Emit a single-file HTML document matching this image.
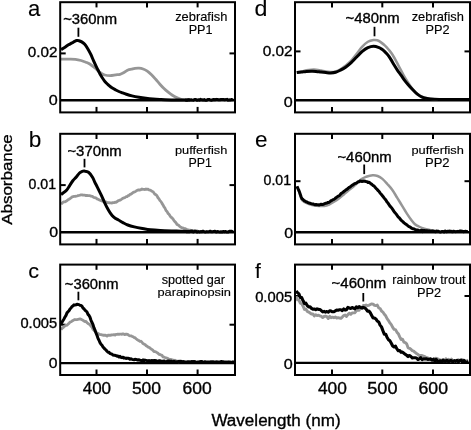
<!DOCTYPE html>
<html><head><meta charset="utf-8"><style>
html,body{margin:0;padding:0;background:#fff;width:471px;height:430px;overflow:hidden}
svg{display:block;will-change:transform}
text{font-family:"Liberation Sans", sans-serif;stroke:#000}
</style></head><body>
<svg width="471" height="430" viewBox="0 0 471 430">
<rect width="471" height="430" fill="#fff"/>
<line x1="96.5" y1="2.2" x2="96.5" y2="7.4" stroke="#000" stroke-width="2"/>
<line x1="96.5" y1="106.9" x2="96.5" y2="112.4" stroke="#000" stroke-width="2"/>
<line x1="147.0" y1="2.2" x2="147.0" y2="7.4" stroke="#000" stroke-width="2"/>
<line x1="147.0" y1="106.9" x2="147.0" y2="112.4" stroke="#000" stroke-width="2"/>
<line x1="197.6" y1="2.2" x2="197.6" y2="7.4" stroke="#000" stroke-width="2"/>
<line x1="197.6" y1="106.9" x2="197.6" y2="112.4" stroke="#000" stroke-width="2"/>
<line x1="60.2" y1="53.4" x2="65.7" y2="53.4" stroke="#000" stroke-width="2"/>
<line x1="229.5" y1="53.4" x2="235.0" y2="53.4" stroke="#000" stroke-width="2"/>
<line x1="60.2" y1="100.2" x2="235.0" y2="100.2" stroke="#000" stroke-width="2.4"/>
<line x1="96.5" y1="133.8" x2="96.5" y2="139.0" stroke="#000" stroke-width="2"/>
<line x1="96.5" y1="238.9" x2="96.5" y2="244.4" stroke="#000" stroke-width="2"/>
<line x1="147.0" y1="133.8" x2="147.0" y2="139.0" stroke="#000" stroke-width="2"/>
<line x1="147.0" y1="238.9" x2="147.0" y2="244.4" stroke="#000" stroke-width="2"/>
<line x1="197.6" y1="133.8" x2="197.6" y2="139.0" stroke="#000" stroke-width="2"/>
<line x1="197.6" y1="238.9" x2="197.6" y2="244.4" stroke="#000" stroke-width="2"/>
<line x1="60.2" y1="185.1" x2="65.7" y2="185.1" stroke="#000" stroke-width="2"/>
<line x1="229.5" y1="185.1" x2="235.0" y2="185.1" stroke="#000" stroke-width="2"/>
<line x1="60.2" y1="232.2" x2="235.0" y2="232.2" stroke="#000" stroke-width="2.4"/>
<line x1="96.5" y1="264.6" x2="96.5" y2="269.8" stroke="#000" stroke-width="2"/>
<line x1="96.5" y1="369.5" x2="96.5" y2="375.0" stroke="#000" stroke-width="2"/>
<line x1="147.0" y1="264.6" x2="147.0" y2="269.8" stroke="#000" stroke-width="2"/>
<line x1="147.0" y1="369.5" x2="147.0" y2="375.0" stroke="#000" stroke-width="2"/>
<line x1="197.6" y1="264.6" x2="197.6" y2="269.8" stroke="#000" stroke-width="2"/>
<line x1="197.6" y1="369.5" x2="197.6" y2="375.0" stroke="#000" stroke-width="2"/>
<line x1="60.2" y1="324.7" x2="65.7" y2="324.7" stroke="#000" stroke-width="2"/>
<line x1="229.5" y1="324.7" x2="235.0" y2="324.7" stroke="#000" stroke-width="2"/>
<line x1="60.2" y1="363.1" x2="235.0" y2="363.1" stroke="#000" stroke-width="2.4"/>
<line x1="332.0" y1="2.2" x2="332.0" y2="7.4" stroke="#000" stroke-width="2"/>
<line x1="332.0" y1="106.9" x2="332.0" y2="112.4" stroke="#000" stroke-width="2"/>
<line x1="382.3" y1="2.2" x2="382.3" y2="7.4" stroke="#000" stroke-width="2"/>
<line x1="382.3" y1="106.9" x2="382.3" y2="112.4" stroke="#000" stroke-width="2"/>
<line x1="433.0" y1="2.2" x2="433.0" y2="7.4" stroke="#000" stroke-width="2"/>
<line x1="433.0" y1="106.9" x2="433.0" y2="112.4" stroke="#000" stroke-width="2"/>
<line x1="295.0" y1="51.4" x2="300.5" y2="51.4" stroke="#000" stroke-width="2"/>
<line x1="464.5" y1="51.4" x2="470.0" y2="51.4" stroke="#000" stroke-width="2"/>
<line x1="295.0" y1="100.2" x2="470.0" y2="100.2" stroke="#000" stroke-width="2.4"/>
<line x1="332.0" y1="133.8" x2="332.0" y2="139.0" stroke="#000" stroke-width="2"/>
<line x1="332.0" y1="238.9" x2="332.0" y2="244.4" stroke="#000" stroke-width="2"/>
<line x1="382.3" y1="133.8" x2="382.3" y2="139.0" stroke="#000" stroke-width="2"/>
<line x1="382.3" y1="238.9" x2="382.3" y2="244.4" stroke="#000" stroke-width="2"/>
<line x1="433.0" y1="133.8" x2="433.0" y2="139.0" stroke="#000" stroke-width="2"/>
<line x1="433.0" y1="238.9" x2="433.0" y2="244.4" stroke="#000" stroke-width="2"/>
<line x1="295.0" y1="181.2" x2="300.5" y2="181.2" stroke="#000" stroke-width="2"/>
<line x1="464.5" y1="181.2" x2="470.0" y2="181.2" stroke="#000" stroke-width="2"/>
<line x1="295.0" y1="232.3" x2="470.0" y2="232.3" stroke="#000" stroke-width="2.4"/>
<line x1="332.0" y1="264.6" x2="332.0" y2="269.8" stroke="#000" stroke-width="2"/>
<line x1="332.0" y1="369.5" x2="332.0" y2="375.0" stroke="#000" stroke-width="2"/>
<line x1="382.3" y1="264.6" x2="382.3" y2="269.8" stroke="#000" stroke-width="2"/>
<line x1="382.3" y1="369.5" x2="382.3" y2="375.0" stroke="#000" stroke-width="2"/>
<line x1="433.0" y1="264.6" x2="433.0" y2="269.8" stroke="#000" stroke-width="2"/>
<line x1="433.0" y1="369.5" x2="433.0" y2="375.0" stroke="#000" stroke-width="2"/>
<line x1="295.0" y1="296.0" x2="300.5" y2="296.0" stroke="#000" stroke-width="2"/>
<line x1="464.5" y1="296.0" x2="470.0" y2="296.0" stroke="#000" stroke-width="2"/>
<line x1="295.0" y1="362.9" x2="470.0" y2="362.9" stroke="#000" stroke-width="2.4"/>
<path d="M61.00,59.10 C62.25,59.12 66.10,59.15 68.50,59.20 C70.90,59.25 73.32,59.18 75.40,59.40 C77.48,59.62 79.25,60.03 81.00,60.50 C82.75,60.97 84.43,61.62 85.90,62.20 C87.37,62.78 88.23,63.00 89.80,64.00 C91.37,65.00 93.60,66.78 95.30,68.20 C97.00,69.62 98.43,71.37 100.00,72.50 C101.57,73.63 103.00,74.47 104.70,75.00 C106.40,75.53 108.35,75.72 110.20,75.70 C112.05,75.68 114.17,75.13 115.80,74.90 C117.43,74.67 118.63,74.72 120.00,74.30 C121.37,73.88 122.67,73.12 124.00,72.40 C125.33,71.68 126.75,70.53 128.00,70.00 C129.25,69.47 130.33,69.47 131.50,69.20 C132.67,68.93 133.75,68.57 135.00,68.40 C136.25,68.23 137.65,68.10 139.00,68.20 C140.35,68.30 141.72,68.50 143.10,69.00 C144.48,69.50 145.90,70.23 147.30,71.20 C148.70,72.17 150.10,73.45 151.50,74.80 C152.90,76.15 154.30,77.73 155.70,79.30 C157.10,80.87 158.52,82.67 159.90,84.20 C161.28,85.73 162.62,87.17 164.00,88.50 C165.38,89.83 166.80,91.07 168.20,92.20 C169.60,93.33 171.00,94.40 172.40,95.30 C173.80,96.20 175.00,96.88 176.60,97.60 C178.20,98.32 180.10,99.18 182.00,99.60 C183.90,100.02 187.00,100.02 188.00,100.10" fill="none" stroke="#969696" stroke-width="2.8" stroke-linejoin="round" stroke-linecap="butt"/>
<path d="M61.10,49.60 C61.75,49.20 63.77,48.00 65.00,47.20 C66.23,46.40 67.33,45.52 68.50,44.80 C69.67,44.08 70.97,43.48 72.00,42.90 C73.03,42.32 73.90,41.68 74.70,41.30 C75.50,40.92 76.10,40.70 76.80,40.60 C77.50,40.50 78.08,40.48 78.90,40.70 C79.72,40.92 80.77,41.33 81.70,41.90 C82.63,42.47 83.57,43.08 84.50,44.10 C85.43,45.12 86.27,46.32 87.30,48.00 C88.33,49.68 89.67,52.08 90.70,54.20 C91.73,56.32 92.57,58.63 93.50,60.70 C94.43,62.77 95.55,65.05 96.30,66.60 C97.05,68.15 97.38,68.77 98.00,70.00 C98.62,71.23 99.32,72.75 100.00,74.00 C100.68,75.25 101.40,76.40 102.10,77.50 C102.80,78.60 103.50,79.68 104.20,80.60 C104.90,81.52 105.60,82.27 106.30,83.00 C107.00,83.73 107.47,84.20 108.40,85.00 C109.33,85.80 110.67,86.97 111.90,87.80 C113.13,88.63 114.63,89.38 115.80,90.00 C116.97,90.62 117.83,91.03 118.90,91.50 C119.97,91.97 120.95,92.33 122.20,92.80 C123.45,93.27 124.77,93.78 126.40,94.30 C128.03,94.82 129.90,95.40 132.00,95.90 C134.10,96.40 136.68,96.90 139.00,97.30 C141.32,97.70 143.58,98.02 145.90,98.30 C148.22,98.58 150.57,98.82 152.90,99.00 C155.23,99.18 156.42,99.25 159.90,99.40 C163.38,99.55 168.78,99.80 173.80,99.90 C178.82,100.00 187.30,99.98 190.00,100.00" fill="none" stroke="#000" stroke-width="3" stroke-linejoin="round" stroke-linecap="butt"/>
<path d="M185.00,99.53 L186.20,100.24 L187.40,100.16 L188.60,99.65 L189.80,99.89 L191.00,99.84 L192.20,100.04 L193.40,100.17 L194.60,99.47 L195.80,99.41 L197.00,100.21 L198.20,99.81 L199.40,100.13 L200.60,99.37 L201.80,99.81 L203.00,100.08 L204.20,99.59 L205.40,100.30 L206.60,100.26 L207.80,99.38 L209.00,99.38 L210.20,99.89 L211.40,100.29 L212.60,99.72 L213.80,99.56 L215.00,99.76 L216.20,99.37 L217.40,99.56 L218.60,99.77 L219.80,99.82 L221.00,99.56 L222.20,99.55 L223.40,99.54 L224.60,99.78 L225.80,99.61 L227.00,99.34 L228.20,100.15 L229.40,99.87 L230.60,99.95 L231.80,99.49 L233.00,100.29" fill="none" stroke="#000" stroke-width="3" stroke-linejoin="round" stroke-linecap="butt"/>
<path d="M61.00,203.82 L62.00,203.36 L63.00,202.28 L64.00,201.84 L65.00,201.91 L66.00,201.31 L67.00,200.62 L68.00,199.73 L69.00,199.26 L70.00,198.58 L71.00,197.88 L72.00,196.90 L73.00,196.72 L74.00,196.41 L75.00,196.35 L76.00,196.25 L77.00,195.98 L78.00,195.59 L79.00,195.41 L80.00,195.18 L81.00,194.91 L82.00,194.80 L83.00,195.13 L84.00,195.09 L85.00,195.21 L86.00,195.64 L87.00,195.45 L88.00,195.57 L89.00,195.59 L90.00,195.69 L91.00,196.15 L92.00,196.27 L93.00,196.78 L94.00,197.49 L95.00,197.75 L96.00,197.88 L97.00,198.86 L98.00,199.28 L99.00,199.72 L100.00,200.25 L101.00,200.56 L102.00,200.99 L103.00,201.10 L104.00,201.95 L105.00,202.28 L106.00,201.92 L107.00,202.54 L108.00,202.71 L109.00,202.73 L110.00,202.98 L111.00,202.88 L112.00,203.04 L113.00,202.60 L114.00,202.69 L115.00,202.21 L116.00,202.35 L117.00,201.77 L118.00,200.87 L119.00,200.46 L120.00,200.21 L121.00,199.59 L122.00,198.93 L123.00,198.25 L124.00,197.82 L125.00,197.57 L126.00,196.68 L127.00,196.69 L128.00,195.70 L129.00,195.49 L130.00,194.40 L131.00,194.19 L132.00,193.34 L133.00,192.60 L134.00,192.10 L135.00,191.68 L136.00,191.13 L137.00,190.42 L138.00,189.98 L139.00,189.97 L140.00,190.04 L141.00,189.60 L142.00,188.99 L143.00,189.42 L144.00,189.36 L145.00,189.49 L146.00,188.98 L147.00,189.37 L148.00,189.17 L149.00,189.98 L150.00,190.11 L151.00,190.47 L152.00,191.32 L153.00,191.72 L154.00,193.02 L155.00,194.25 L156.00,194.82 L157.00,195.80 L158.00,197.76 L159.00,198.93 L160.00,200.62 L161.00,201.63 L162.00,203.37 L163.00,204.91 L164.00,206.94 L165.00,208.20 L166.00,210.48 L167.00,211.45 L168.00,213.35 L169.00,214.26 L170.00,215.83 L171.00,217.26 L172.00,217.83 L173.00,218.94 L174.00,220.61 L175.00,221.71 L176.00,222.79 L177.00,224.48 L178.00,224.81 L179.00,225.64 L180.00,226.68 L181.00,227.32 L182.00,227.86 L183.00,227.88 L184.00,228.49 L185.00,228.53 L186.00,229.09 L187.00,229.57 L188.00,229.82 L189.00,230.13 L190.00,230.22 L191.00,230.49 L192.00,230.57 L193.00,230.57 L194.00,230.54 L195.00,230.99 L196.00,230.89 L197.00,230.89 L198.00,231.27 L199.00,231.72 L200.00,231.34" fill="none" stroke="#969696" stroke-width="2.8" stroke-linejoin="round" stroke-linecap="butt"/>
<path d="M61.00,194.60 C61.23,194.42 61.48,194.23 62.40,193.50 C63.32,192.77 65.27,191.57 66.50,190.20 C67.73,188.83 68.72,186.92 69.80,185.30 C70.88,183.68 71.92,181.88 73.00,180.50 C74.08,179.12 75.22,178.25 76.30,177.00 C77.38,175.75 78.55,173.92 79.50,173.00 C80.45,172.08 81.18,171.82 82.00,171.50 C82.82,171.18 83.32,170.97 84.40,171.10 C85.48,171.23 87.15,171.28 88.50,172.30 C89.85,173.32 91.42,175.48 92.50,177.20 C93.58,178.92 94.22,181.00 95.00,182.60 C95.78,184.20 96.22,184.83 97.20,186.80 C98.18,188.77 99.65,191.73 100.90,194.40 C102.15,197.07 103.45,200.20 104.70,202.80 C105.95,205.40 107.17,207.88 108.40,210.00 C109.63,212.12 110.87,214.07 112.10,215.50 C113.33,216.93 114.73,217.85 115.80,218.60 C116.87,219.35 117.32,219.33 118.50,220.00 C119.68,220.67 121.35,221.77 122.90,222.60 C124.45,223.43 125.90,224.28 127.80,225.00 C129.70,225.72 131.87,226.32 134.30,226.90 C136.73,227.48 139.70,228.02 142.40,228.50 C145.10,228.98 147.52,229.47 150.50,229.80 C153.48,230.13 155.97,230.28 160.30,230.50 C164.63,230.72 171.55,230.92 176.50,231.10 C181.45,231.28 187.75,231.52 190.00,231.60" fill="none" stroke="#000" stroke-width="3" stroke-linejoin="round" stroke-linecap="butt"/>
<path d="M185.00,231.34 L186.20,231.64 L187.40,231.47 L188.60,231.70 L189.80,231.73 L191.00,231.17 L192.20,231.11 L193.40,231.94 L194.60,231.36 L195.80,231.33 L197.00,232.10 L198.20,231.57 L199.40,231.94 L200.60,231.58 L201.80,231.74 L203.00,231.25 L204.20,231.73 L205.40,231.97 L206.60,231.62 L207.80,231.84 L209.00,231.77 L210.20,231.16 L211.40,231.86 L212.60,231.69 L213.80,231.40 L215.00,231.13 L216.20,231.97 L217.40,231.57 L218.60,231.82 L219.80,231.98 L221.00,231.81 L222.20,232.02 L223.40,231.49 L224.60,231.90 L225.80,231.54 L227.00,232.04 L228.20,231.98 L229.40,231.20 L230.60,231.24 L231.80,231.32 L233.00,232.07" fill="none" stroke="#000" stroke-width="3" stroke-linejoin="round" stroke-linecap="butt"/>
<path d="M61.00,329.66 L62.00,328.50 L63.00,327.73 L64.00,326.62 L65.00,325.80 L66.00,325.35 L67.00,325.08 L68.00,324.20 L69.00,323.40 L70.00,322.14 L71.00,321.78 L72.00,321.05 L73.00,320.46 L74.00,319.90 L75.00,319.49 L76.00,319.74 L77.00,319.51 L78.00,319.35 L79.00,319.20 L80.00,318.85 L81.00,319.24 L82.00,319.81 L83.00,320.29 L84.00,321.00 L85.00,321.62 L86.00,321.51 L87.00,322.71 L88.00,323.54 L89.00,324.17 L90.00,324.79 L91.00,326.32 L92.00,327.24 L93.00,329.26 L94.00,330.31 L95.00,331.11 L96.00,331.97 L97.00,333.33 L98.00,333.45 L99.00,334.14 L100.00,334.52 L101.00,334.63 L102.00,334.94 L103.00,335.26 L104.00,335.26 L105.00,335.17 L106.00,335.46 L107.00,336.07 L108.00,335.23 L109.00,335.06 L110.00,335.41 L111.00,334.93 L112.00,334.98 L113.00,334.81 L114.00,334.61 L115.00,335.11 L116.00,334.30 L117.00,334.41 L118.00,334.13 L119.00,334.45 L120.00,334.06 L121.00,334.06 L122.00,334.34 L123.00,333.88 L124.00,334.13 L125.00,334.63 L126.00,334.10 L127.00,334.25 L128.00,334.64 L129.00,335.52 L130.00,335.79 L131.00,335.86 L132.00,336.35 L133.00,336.72 L134.00,337.49 L135.00,337.63 L136.00,338.73 L137.00,339.51 L138.00,340.19 L139.00,340.61 L140.00,341.43 L141.00,341.27 L142.00,342.22 L143.00,343.55 L144.00,344.09 L145.00,344.49 L146.00,345.71 L147.00,346.15 L148.00,347.07 L149.00,347.34 L150.00,347.98 L151.00,348.95 L152.00,349.41 L153.00,350.36 L154.00,351.52 L155.00,351.60 L156.00,351.95 L157.00,352.63 L158.00,353.27 L159.00,354.35 L160.00,354.50 L161.00,354.95 L162.00,355.40 L163.00,356.85 L164.00,357.01 L165.00,357.47 L166.00,357.82 L167.00,358.17 L168.00,358.63 L169.00,359.44 L170.00,359.27 L171.00,359.39 L172.00,360.01 L173.00,360.00 L174.00,360.88 L175.00,360.27 L176.00,360.82 L177.00,361.21 L178.00,361.06 L179.00,361.76 L180.00,361.48" fill="none" stroke="#969696" stroke-width="2.8" stroke-linejoin="round" stroke-linecap="butt"/>
<path d="M61.00,323.91 L62.00,322.26 L63.00,320.55 L64.00,318.93 L65.00,317.00 L66.00,315.42 L67.00,312.88 L68.00,311.78 L69.00,310.73 L70.00,308.98 L71.00,308.03 L72.00,306.47 L73.00,305.93 L74.00,304.87 L75.00,304.99 L76.00,304.87 L77.00,304.22 L78.00,304.43 L79.00,304.63 L80.00,305.35 L81.00,305.47 L82.00,306.23 L83.00,308.11 L84.00,308.73 L85.00,310.28 L86.00,310.95 L87.00,311.95 L88.00,314.36 L89.00,315.40 L90.00,317.25 L91.00,320.28 L92.00,322.53 L93.00,324.59 L94.00,327.89 L95.00,330.20 L96.00,333.02 L97.00,335.29 L98.00,338.35 L99.00,340.24 L100.00,342.61 L101.00,344.19 L102.00,345.26 L103.00,346.92 L104.00,348.10 L105.00,349.08 L106.00,350.01 L107.00,351.22 L108.00,352.18 L109.00,352.30 L110.00,353.57 L111.00,353.81 L112.00,354.19 L113.00,355.05 L114.00,355.14 L115.00,355.29 L116.00,355.72 L117.00,356.20 L118.00,355.90 L119.00,356.99 L120.00,356.39 L121.00,357.31 L122.00,357.66 L123.00,357.18 L124.00,358.13 L125.00,358.01 L126.00,358.47 L127.00,358.12 L128.00,358.26 L129.00,358.49 L130.00,359.30 L131.00,358.72 L132.00,359.33 L133.00,359.62 L134.00,359.76 L135.00,359.35 L136.00,359.49 L137.00,359.77 L138.00,360.13 L139.00,359.65 L140.00,360.30 L141.00,360.42 L142.00,360.55 L143.00,359.88 L144.00,360.77 L145.00,360.07 L146.00,360.36 L147.00,360.65 L148.00,360.97 L149.00,360.49 L150.00,361.06 L151.00,360.76 L152.00,360.59 L153.00,360.64 L154.00,360.56 L155.00,360.51 L156.00,360.62 L157.00,361.15 L158.00,361.47 L159.00,360.76 L160.00,360.70 L161.00,361.58 L162.00,361.21 L163.00,361.13 L164.00,361.01 L165.00,361.37 L166.00,361.61 L167.00,361.32 L168.00,361.32 L169.00,361.03 L170.00,361.84 L171.00,361.08 L172.00,361.53 L173.00,361.88 L174.00,361.27 L175.00,361.82 L176.00,362.02 L177.00,361.74 L178.00,361.89 L179.00,361.28 L180.00,361.58 L181.00,361.33 L182.00,361.96 L183.00,361.48 L184.00,361.63 L185.00,362.12 L186.00,362.00 L187.00,362.12 L188.00,361.65 L189.00,361.69 L190.00,361.91 L191.00,361.70 L192.00,361.53 L193.00,361.64 L194.00,361.42 L195.00,361.63 L196.00,362.19 L197.00,362.17 L198.00,361.88 L199.00,361.77 L200.00,361.63 L201.00,361.41 L202.00,361.58 L203.00,362.05 L204.00,362.13 L205.00,361.68 L206.00,362.07 L207.00,362.07 L208.00,362.00 L209.00,361.98 L210.00,362.07 L211.00,361.72 L212.00,362.04 L213.00,361.66 L214.00,361.85 L215.00,362.12 L216.00,362.05 L217.00,361.70 L218.00,362.29 L219.00,362.04 L220.00,361.98 L221.00,361.47 L222.00,361.96 L223.00,361.70 L224.00,362.09 L225.00,361.91 L226.00,362.23 L227.00,362.09 L228.00,362.23 L229.00,361.83 L230.00,362.10 L231.00,362.19 L232.00,362.28 L233.00,361.86 L234.00,362.31" fill="none" stroke="#000" stroke-width="3" stroke-linejoin="round" stroke-linecap="butt"/>
<path d="M296.60,72.30 C297.42,72.18 299.87,71.93 301.50,71.60 C303.13,71.27 304.77,70.62 306.40,70.30 C308.03,69.98 309.68,69.80 311.30,69.70 C312.92,69.60 314.48,69.57 316.10,69.70 C317.72,69.83 319.37,70.18 321.00,70.50 C322.63,70.82 324.27,71.35 325.90,71.60 C327.53,71.85 329.17,72.03 330.80,72.00 C332.43,71.97 334.08,71.85 335.70,71.40 C337.32,70.95 338.88,70.23 340.50,69.30 C342.12,68.37 343.62,67.23 345.40,65.80 C347.18,64.37 349.32,62.70 351.20,60.70 C353.08,58.70 354.85,56.13 356.70,53.80 C358.55,51.47 360.43,48.70 362.30,46.70 C364.17,44.70 366.03,42.92 367.90,41.80 C369.77,40.68 371.95,40.27 373.50,40.00 C375.05,39.73 376.12,39.93 377.20,40.20 C378.28,40.47 378.70,40.70 380.00,41.60 C381.30,42.50 383.53,44.23 385.00,45.60 C386.47,46.97 387.52,48.23 388.80,49.80 C390.08,51.37 391.17,52.53 392.70,55.00 C394.23,57.47 396.22,61.30 398.00,64.60 C399.78,67.90 401.87,72.03 403.40,74.80 C404.93,77.57 405.90,79.13 407.20,81.20 C408.50,83.27 409.82,85.35 411.20,87.20 C412.58,89.05 413.90,90.83 415.50,92.30 C417.10,93.77 419.17,95.10 420.80,96.00 C422.43,96.90 423.43,97.20 425.30,97.70 C427.17,98.20 429.55,98.65 432.00,99.00 C434.45,99.35 438.67,99.67 440.00,99.80" fill="none" stroke="#969696" stroke-width="2.5" stroke-linejoin="round" stroke-linecap="butt"/>
<path d="M296.80,72.60 C297.58,72.52 299.90,72.28 301.50,72.10 C303.10,71.92 304.77,71.63 306.40,71.50 C308.03,71.37 309.68,71.32 311.30,71.30 C312.92,71.28 314.48,71.27 316.10,71.40 C317.72,71.53 319.37,71.90 321.00,72.10 C322.63,72.30 324.27,72.47 325.90,72.60 C327.53,72.73 329.17,72.95 330.80,72.90 C332.43,72.85 334.08,72.75 335.70,72.30 C337.32,71.85 338.85,71.05 340.50,70.20 C342.15,69.35 343.82,68.47 345.60,67.20 C347.38,65.93 349.35,64.30 351.20,62.60 C353.05,60.90 354.85,58.87 356.70,57.00 C358.55,55.13 360.43,52.95 362.30,51.40 C364.17,49.85 366.03,48.55 367.90,47.70 C369.77,46.85 371.63,46.32 373.50,46.30 C375.37,46.28 377.68,47.10 379.10,47.60 C380.52,48.10 381.02,48.58 382.00,49.30 C382.98,50.02 384.00,50.93 385.00,51.90 C386.00,52.87 387.00,53.82 388.00,55.10 C389.00,56.38 390.00,57.98 391.00,59.60 C392.00,61.22 392.92,63.02 394.00,64.80 C395.08,66.58 396.33,68.57 397.50,70.30 C398.67,72.03 399.82,73.52 401.00,75.20 C402.18,76.88 403.37,78.77 404.60,80.40 C405.83,82.03 407.08,83.48 408.40,85.00 C409.72,86.52 411.02,87.97 412.50,89.50 C413.98,91.03 415.72,92.92 417.30,94.20 C418.88,95.48 420.38,96.47 422.00,97.20 C423.62,97.93 424.93,98.25 427.00,98.60 C429.07,98.95 431.40,99.13 434.40,99.30 C437.40,99.47 439.23,99.55 445.00,99.60 C450.77,99.65 465.00,99.60 469.00,99.60" fill="none" stroke="#000" stroke-width="3" stroke-linejoin="round" stroke-linecap="butt"/>
<path d="M297.00,186.80 C297.35,187.63 298.35,189.73 299.10,191.80 C299.85,193.87 300.55,197.47 301.50,199.20 C302.45,200.93 303.45,201.35 304.80,202.20 C306.15,203.05 307.98,203.73 309.60,204.30 C311.22,204.87 312.87,205.32 314.50,205.60 C316.13,205.88 317.77,205.93 319.40,206.00 C321.03,206.07 322.68,206.25 324.30,206.00 C325.92,205.75 327.48,205.20 329.10,204.50 C330.72,203.80 332.37,202.80 334.00,201.80 C335.63,200.80 337.27,199.72 338.90,198.50 C340.53,197.28 342.17,195.87 343.80,194.50 C345.43,193.13 346.87,191.83 348.70,190.30 C350.53,188.77 352.70,187.15 354.80,185.30 C356.90,183.45 359.40,180.62 361.30,179.20 C363.20,177.78 364.30,177.45 366.20,176.80 C368.10,176.15 370.80,175.43 372.70,175.30 C374.60,175.17 375.98,175.40 377.60,176.00 C379.22,176.60 380.78,177.57 382.40,178.90 C384.02,180.23 385.67,182.18 387.30,184.00 C388.93,185.82 390.57,187.53 392.20,189.80 C393.83,192.07 395.47,194.97 397.10,197.60 C398.73,200.23 400.37,202.93 402.00,205.60 C403.63,208.27 405.28,211.12 406.90,213.60 C408.52,216.08 410.35,218.73 411.70,220.50 C413.05,222.27 413.82,223.20 415.00,224.20 C416.18,225.20 417.25,225.73 418.80,226.50 C420.35,227.27 422.47,228.23 424.30,228.80 C426.13,229.37 427.18,229.50 429.80,229.90 C432.42,230.30 438.30,230.98 440.00,231.20" fill="none" stroke="#969696" stroke-width="2.5" stroke-linejoin="round" stroke-linecap="butt"/>
<path d="M297.00,186.28 L298.00,188.63 L299.00,190.76 L300.00,193.59 L301.00,196.48 L302.00,198.82 L303.00,199.55 L304.00,200.58 L305.00,201.11 L306.00,201.79 L307.00,201.93 L308.00,202.68 L309.00,203.08 L310.00,203.25 L311.00,203.59 L312.00,203.95 L313.00,203.92 L314.00,204.40 L315.00,204.71 L316.00,204.45 L317.00,204.84 L318.00,204.83 L319.00,204.98 L320.00,204.60 L321.00,204.29 L322.00,204.56 L323.00,204.40 L324.00,204.02 L325.00,203.48 L326.00,203.15 L327.00,203.01 L328.00,202.41 L329.00,202.41 L330.00,201.60 L331.00,200.76 L332.00,200.42 L333.00,199.63 L334.00,199.36 L335.00,198.63 L336.00,197.68 L337.00,197.04 L338.00,196.36 L339.00,195.70 L340.00,194.99 L341.00,193.60 L342.00,192.99 L343.00,192.31 L344.00,191.33 L345.00,190.75 L346.00,189.69 L347.00,189.41 L348.00,188.45 L349.00,187.45 L350.00,187.03 L351.00,186.15 L352.00,185.40 L353.00,184.90 L354.00,184.02 L355.00,183.43 L356.00,183.33 L357.00,182.74 L358.00,181.84 L359.00,181.81 L360.00,181.00 L361.00,181.17 L362.00,181.49 L363.00,181.30 L364.00,181.09 L365.00,181.27 L366.00,181.56 L367.00,181.69 L368.00,182.50 L369.00,182.22 L370.00,182.99 L371.00,183.92 L372.00,184.45 L373.00,185.53 L374.00,185.83 L375.00,187.26 L376.00,188.31 L377.00,189.28 L378.00,190.51 L379.00,191.35 L380.00,192.83 L381.00,194.09 L382.00,195.21 L383.00,196.47 L384.00,197.89 L385.00,199.08 L386.00,200.25 L387.00,202.01 L388.00,203.09 L389.00,204.59 L390.00,206.15 L391.00,207.15 L392.00,208.44 L393.00,209.87 L394.00,211.51 L395.00,212.63 L396.00,213.84 L397.00,215.22 L398.00,216.77 L399.00,217.57 L400.00,218.73 L401.00,220.07 L402.00,220.97 L403.00,221.82 L404.00,222.89 L405.00,223.65 L406.00,224.21 L407.00,225.12 L408.00,225.80 L409.00,226.66 L410.00,226.93 L411.00,227.69 L412.00,228.42 L413.00,228.81 L414.00,228.90 L415.00,229.45 L416.00,229.69 L417.00,229.88 L418.00,230.08 L419.00,230.40 L420.00,230.63 L421.00,230.39 L422.00,230.33 L423.00,230.68 L424.00,230.52 L425.00,230.58 L426.00,231.10 L427.00,230.78 L428.00,231.22 L429.00,231.09 L430.00,231.51 L431.00,231.54 L432.00,231.14" fill="none" stroke="#000" stroke-width="3" stroke-linejoin="round" stroke-linecap="butt"/>
<path d="M420.00,231.32 L421.20,231.15 L422.40,231.65 L423.60,231.07 L424.80,231.54 L426.00,231.37 L427.20,231.06 L428.40,231.51 L429.60,231.04 L430.80,231.43 L432.00,231.07 L433.20,231.09 L434.40,231.42 L435.60,231.83 L436.80,231.12 L438.00,231.22 L439.20,231.63 L440.40,231.95 L441.60,231.58 L442.80,231.40 L444.00,231.98 L445.20,231.05 L446.40,231.86 L447.60,231.29 L448.80,231.14 L450.00,231.12 L451.20,231.31 L452.40,231.82 L453.60,231.18 L454.80,231.58 L456.00,231.64 L457.20,231.37 L458.40,231.55 L459.60,231.06 L460.80,231.06 L462.00,231.21 L463.20,231.68 L464.40,231.43 L465.60,231.31 L466.80,231.59 L468.00,231.45" fill="none" stroke="#000" stroke-width="3" stroke-linejoin="round" stroke-linecap="butt"/>
<path d="M296.10,296.14 L297.50,299.90 L298.90,299.88 L300.30,303.26 L301.70,303.78 L303.10,306.17 L304.50,309.50 L305.90,309.00 L307.30,311.44 L308.70,312.05 L310.10,312.99 L311.50,314.05 L312.90,313.91 L314.30,315.97 L315.70,314.71 L317.10,315.59 L318.50,315.21 L319.90,315.88 L321.30,316.29 L322.70,317.55 L324.10,316.48 L325.50,316.04 L326.90,316.59 L328.30,318.55 L329.70,316.35 L331.10,317.69 L332.50,317.11 L333.90,317.79 L335.30,317.08 L336.70,318.00 L338.10,317.61 L339.50,318.05 L340.90,318.29 L342.30,317.09 L343.70,315.60 L345.10,314.99 L346.50,316.42 L347.90,314.62 L349.30,313.22 L350.70,314.34 L352.10,312.98 L353.50,312.87 L354.90,312.76 L356.30,310.82 L357.70,310.07 L359.10,310.39 L360.50,307.68 L361.90,308.25 L363.30,305.44 L364.70,305.65 L366.10,304.99 L367.50,305.58 L368.90,305.32 L370.30,304.51 L371.70,303.91 L373.10,304.12 L374.50,305.36 L375.90,305.64 L377.30,305.05 L378.70,307.99 L380.10,308.50 L381.50,311.02 L382.90,312.07 L384.30,314.27 L385.70,315.79 L387.10,318.66 L388.50,320.55 L389.90,322.89 L391.30,324.58 L392.70,327.47 L394.10,329.41 L395.50,329.60 L396.90,332.18 L398.30,333.68 L399.70,336.92 L401.10,339.51 L402.50,339.23 L403.90,342.16 L405.30,342.62 L406.70,343.86 L408.10,347.85 L409.50,348.28 L410.90,349.17 L412.30,350.70 L413.70,351.11 L415.10,352.46 L416.50,353.50 L417.90,354.39 L419.30,355.60 L420.70,355.42 L422.10,355.49 L423.50,356.00 L424.90,356.50 L426.30,357.83 L427.70,357.78 L429.10,359.20 L430.50,358.81 L431.90,359.63 L433.30,360.49 L434.70,358.36 L436.10,358.32 L437.50,358.69 L438.90,359.35 L440.30,359.87 L441.70,360.35 L443.10,359.48 L444.50,361.02 L445.90,358.78 L447.30,360.85 L448.70,359.41 L450.10,361.07 L451.50,359.11 L452.90,361.41 L454.30,360.98 L455.70,361.60 L457.10,360.68 L458.50,359.77 L459.90,361.74 L461.30,360.53 L462.70,359.74 L464.10,361.05 L465.50,360.86 L466.90,360.86 L468.30,360.16" fill="none" stroke="#969696" stroke-width="2.9" stroke-linejoin="round" stroke-linecap="butt"/>
<path d="M296.10,291.12 L297.50,292.55 L298.90,293.79 L300.30,297.44 L301.70,297.61 L303.10,300.81 L304.50,303.58 L305.90,303.18 L307.30,305.62 L308.70,306.96 L310.10,306.85 L311.50,308.41 L312.90,309.32 L314.30,308.97 L315.70,309.77 L317.10,308.85 L318.50,309.37 L319.90,309.44 L321.30,310.66 L322.70,311.87 L324.10,311.41 L325.50,312.09 L326.90,311.50 L328.30,312.26 L329.70,310.74 L331.10,311.05 L332.50,311.80 L333.90,311.75 L335.30,310.90 L336.70,309.99 L338.10,310.21 L339.50,309.82 L340.90,309.70 L342.30,310.58 L343.70,308.96 L345.10,310.08 L346.50,309.66 L347.90,307.45 L349.30,308.00 L350.70,308.40 L352.10,307.52 L353.50,308.17 L354.90,308.90 L356.30,306.84 L357.70,307.75 L359.10,306.56 L360.50,307.41 L361.90,308.03 L363.30,307.42 L364.70,307.90 L366.10,309.04 L367.50,311.10 L368.90,311.01 L370.30,312.78 L371.70,315.47 L373.10,318.07 L374.50,318.00 L375.90,318.99 L377.30,321.01 L378.70,321.93 L380.10,325.12 L381.50,326.88 L382.90,330.64 L384.30,334.11 L385.70,334.24 L387.10,337.46 L388.50,339.69 L389.90,340.81 L391.30,343.19 L392.70,345.97 L394.10,347.01 L395.50,346.17 L396.90,348.85 L398.30,350.79 L399.70,350.45 L401.10,352.33 L402.50,352.14 L403.90,353.27 L405.30,354.41 L406.70,355.27 L408.10,356.59 L409.50,355.49 L410.90,356.47 L412.30,358.01 L413.70,357.77 L415.10,357.75 L416.50,357.92 L417.90,359.49 L419.30,358.81 L420.70,357.73 L422.10,359.59 L423.50,358.70 L424.90,359.07 L426.30,358.73 L427.70,359.38 L429.10,359.26 L430.50,358.88 L431.90,360.21 L433.30,359.20 L434.70,360.84 L436.10,359.31 L437.50,361.11 L438.90,361.32 L440.30,360.71 L441.70,361.20 L443.10,360.21 L444.50,361.31 L445.90,360.65 L447.30,360.24 L448.70,361.88 L450.10,360.66 L451.50,360.63 L452.90,361.72 L454.30,360.67 L455.70,361.35 L457.10,360.28 L458.50,361.78 L459.90,360.52 L461.30,360.09 L462.70,362.15 L464.10,360.40 L465.50,362.13 L466.90,362.24 L468.30,361.43" fill="none" stroke="#000" stroke-width="3.1" stroke-linejoin="round" stroke-linecap="butt"/>
<rect x="60.2" y="2.2" width="174.8" height="110.2" fill="none" stroke="#000" stroke-width="2"/>
<rect x="60.2" y="133.8" width="174.8" height="110.6" fill="none" stroke="#000" stroke-width="2"/>
<rect x="60.2" y="264.6" width="174.8" height="110.39999999999998" fill="none" stroke="#000" stroke-width="2"/>
<rect x="295.0" y="2.2" width="175.0" height="110.2" fill="none" stroke="#000" stroke-width="2"/>
<rect x="295.0" y="133.8" width="175.0" height="110.6" fill="none" stroke="#000" stroke-width="2"/>
<rect x="295.0" y="264.6" width="175.0" height="110.39999999999998" fill="none" stroke="#000" stroke-width="2"/>
<line x1="78.4" y1="27.7" x2="78.4" y2="36.8" stroke="#000" stroke-width="1.8"/>
<line x1="84.5" y1="158.8" x2="84.5" y2="167.4" stroke="#000" stroke-width="1.8"/>
<line x1="78.4" y1="291.7" x2="78.4" y2="300.3" stroke="#000" stroke-width="1.8"/>
<line x1="374.5" y1="26.8" x2="374.5" y2="36.3" stroke="#000" stroke-width="1.8"/>
<line x1="364.2" y1="164.5" x2="364.2" y2="174.1" stroke="#000" stroke-width="1.8"/>
<line x1="363.3" y1="293" x2="363.3" y2="301.5" stroke="#000" stroke-width="1.8"/>
<text transform="matrix(0.22115,0,0,0.21852,28.115,15.800)" font-size="100" fill="#000" stroke-width="0.45">a</text>
<text transform="matrix(0.22609,0,0,0.21233,28.643,146.600)" font-size="100" fill="#000" stroke-width="0.46">b</text>
<text transform="matrix(0.21591,0,0,0.20556,28.336,277.900)" font-size="100" fill="#000" stroke-width="0.47">c</text>
<text transform="matrix(0.23261,0,0,0.21644,254.570,15.800)" font-size="100" fill="#000" stroke-width="0.45">d</text>
<text transform="matrix(0.22500,0,0,0.21852,255.100,146.800)" font-size="100" fill="#000" stroke-width="0.45">e</text>
<text transform="matrix(0.21111,0,0,0.20959,255.089,277.600)" font-size="100" fill="#000" stroke-width="0.48">f</text>
<text transform="matrix(0.15240,0,0,0.14714,27.843,56.800)" font-size="100" fill="#000" stroke-width="2.34">0.02</text>
<text transform="matrix(0.16122,0,0,0.14714,48.816,105.300)" font-size="100" fill="#000" stroke-width="2.27">0</text>
<text transform="matrix(0.14117,0,0,0.14571,28.577,189.300)" font-size="100" fill="#000" stroke-width="2.44">0.01</text>
<text transform="matrix(0.15918,0,0,0.15000,49.222,236.500)" font-size="100" fill="#000" stroke-width="2.26">0</text>
<text transform="matrix(0.14653,0,0,0.14429,20.460,328.300)" font-size="100" fill="#000" stroke-width="2.41">0.005</text>
<text transform="matrix(0.15714,0,0,0.14714,48.829,367.500)" font-size="100" fill="#000" stroke-width="2.30">0</text>
<text transform="matrix(0.15400,0,0,0.14714,262.638,56.100)" font-size="100" fill="#000" stroke-width="2.32">0.02</text>
<text transform="matrix(0.16122,0,0,0.15000,283.816,106.500)" font-size="100" fill="#000" stroke-width="2.25">0</text>
<text transform="matrix(0.14117,0,0,0.14429,263.577,185.300)" font-size="100" fill="#000" stroke-width="2.45">0.01</text>
<text transform="matrix(0.15918,0,0,0.14571,284.222,238.000)" font-size="100" fill="#000" stroke-width="2.30">0</text>
<text transform="matrix(0.14777,0,0,0.14143,255.157,301.700)" font-size="100" fill="#000" stroke-width="2.42">0.005</text>
<text transform="matrix(0.16122,0,0,0.15000,283.816,368.800)" font-size="100" fill="#000" stroke-width="2.25">0</text>
<text transform="matrix(0.14836,0,0,0.14571,63.207,23.500)" font-size="100" fill="#000" stroke-width="2.38">~360nm</text>
<text transform="matrix(0.14921,0,0,0.14286,67.403,156.200)" font-size="100" fill="#000" stroke-width="2.40">~370nm</text>
<text transform="matrix(0.14780,0,0,0.14286,64.809,289.000)" font-size="100" fill="#000" stroke-width="2.41">~360nm</text>
<text transform="matrix(0.14865,0,0,0.14286,345.605,22.700)" font-size="100" fill="#000" stroke-width="2.40">~480nm</text>
<text transform="matrix(0.14921,0,0,0.14286,337.403,161.900)" font-size="100" fill="#000" stroke-width="2.40">~460nm</text>
<text transform="matrix(0.15006,0,0,0.14286,331.600,287.700)" font-size="100" fill="#000" stroke-width="2.39">~460nm</text>
<text transform="matrix(0.12874,0,0,0.12192,175.185,20.900)" font-size="100" fill="#000" stroke-width="1.20">zebrafish</text>
<text transform="matrix(0.12642,0,0,0.12029,188.689,33.700)" font-size="100" fill="#000" stroke-width="1.22">PP1</text>
<text transform="matrix(0.12817,0,0,0.11781,174.931,153.600)" font-size="100" fill="#000" stroke-width="1.22">pufferfish</text>
<text transform="matrix(0.12415,0,0,0.12319,188.507,166.500)" font-size="100" fill="#000" stroke-width="1.21">PP1</text>
<text transform="matrix(0.12675,0,0,0.11918,161.646,283.900)" font-size="100" fill="#000" stroke-width="1.22">spotted gar</text>
<text transform="matrix(0.12851,0,0,0.11781,157.429,295.600)" font-size="100" fill="#000" stroke-width="1.22">parapinopsin</text>
<text transform="matrix(0.12874,0,0,0.11918,411.685,20.900)" font-size="100" fill="#000" stroke-width="1.21">zebrafish</text>
<text transform="matrix(0.12755,0,0,0.12571,425.480,34.000)" font-size="100" fill="#000" stroke-width="1.18">PP2</text>
<text transform="matrix(0.12817,0,0,0.11781,411.431,153.600)" font-size="100" fill="#000" stroke-width="1.22">pufferfish</text>
<text transform="matrix(0.13039,0,0,0.12286,424.957,166.600)" font-size="100" fill="#000" stroke-width="1.18">PP2</text>
<text transform="matrix(0.12668,0,0,0.12192,392.340,283.500)" font-size="100" fill="#000" stroke-width="1.21">rainbow trout</text>
<text transform="matrix(0.12812,0,0,0.12143,416.975,296.600)" font-size="100" fill="#000" stroke-width="1.20">PP2</text>
<text transform="matrix(0.17056,0,0,0.16286,82.659,393.600)" font-size="100" fill="#000" stroke-width="2.10">400</text>
<text transform="matrix(0.17459,0,0,0.16286,131.902,393.600)" font-size="100" fill="#000" stroke-width="2.07">500</text>
<text transform="matrix(0.17506,0,0,0.16286,182.425,393.600)" font-size="100" fill="#000" stroke-width="2.07">600</text>
<text transform="matrix(0.17366,0,0,0.16286,317.953,393.600)" font-size="100" fill="#000" stroke-width="2.08">400</text>
<text transform="matrix(0.18087,0,0,0.16286,367.277,393.600)" font-size="100" fill="#000" stroke-width="2.04">500</text>
<text transform="matrix(0.17633,0,0,0.16286,418.518,393.600)" font-size="100" fill="#000" stroke-width="2.06">600</text>
<text transform="matrix(0.17066,0,0,0.17246,211.400,425.900)" font-size="100" fill="#000" stroke-width="2.04">Wavelength (nm)</text>
<text transform="matrix(0,-0.16979,0.14928,0,12.300,224.800)" font-size="100" stroke-width="2.19">Absorbance</text>
</svg>
</body></html>
